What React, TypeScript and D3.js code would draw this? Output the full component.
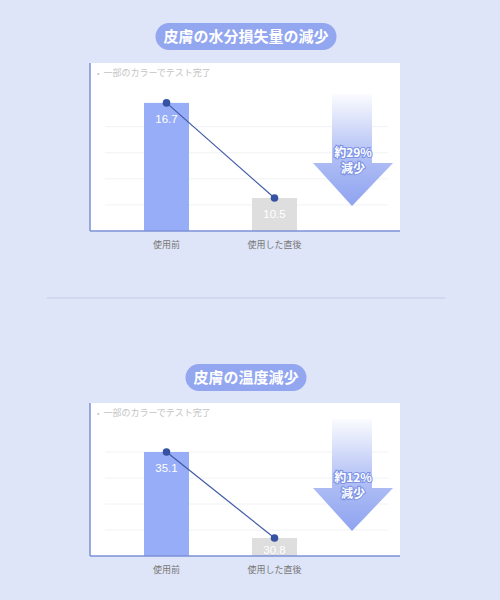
import { scaleLinear, scalePoint } from "d3";

const panelTitles = ["皮膚の水分損失量の減少", "皮膚の温度減少"];
const categories = ["使用前", "使用した直後"];
const moistureValues = [16.7, 10.5];
const temperatureValues = [35.1, 30.8];
const reductionLabels = ["約29%", "約12%"];
const moistureDomain = [8.35, 19.3];
const temperatureDomain = [29.9, 37.55];
const moistureGrid = [10.05, 11.75, 13.45, 15.15];
const temperatureGrid = [31.2, 32.5, 33.8, 35.1];
const caption = "一部のカラーでテスト完了";

const FONT = "'Noto Sans CJK JP', 'Noto Sans', sans-serif";

interface PanelProps {
  id: string;
  title: string;
  values: number[];
  domain: number[];
  grid: number[];
  reduction: string;
  pillY: number;
  top: number;
  bottom: number;
}

function Panel({ id, title, values, domain, grid, reduction, pillY, top, bottom }: PanelProps) {
  const left = 90;
  const right = 400;
  const x = scalePoint(categories, [166.5, 274.5]);
  const y = scaleLinear(domain, [bottom, top]);
  const barW = 45;
  const pillW = title.length * 15 + 16;
  const ax = 352; // arrow centre

  return (
    <g>
      <defs>
        <linearGradient id={`shaft-${id}`} gradientUnits="userSpaceOnUse" x1={0} x2={0} y1={bottom - 140} y2={bottom - 25}>
          <stop offset="0" stopColor="#ffffff" stopOpacity={1} />
          <stop offset="0.55" stopColor="#b2c0f5" />
          <stop offset="1" stopColor="#8fa3f0" />
        </linearGradient>
      </defs>
      <rect x={246 - pillW / 2} y={pillY - 13.5} width={pillW} height={27} rx={13.5} fill="#93a6f0" />
      <text x={246} y={pillY} dy="0.36em" textAnchor="middle" fill="#fff" fontSize={15} fontWeight={700} fontFamily={FONT}>
        {title}
      </text>
      <rect x={left} y={top} width={right - left} height={bottom - top} fill="#fff" />
      {grid.map((g) => (
        <line key={g} x1={105} x2={388} y1={y(g)} y2={y(g)} stroke="#f1f2f6" strokeWidth={1} />
      ))}
      <text x={97} y={top + 13} fontSize={9} fill="#c4c4c4" fontFamily={FONT}>
        <tspan fontSize={7}>•</tspan>
        <tspan dx={4}>{caption}</tspan>
      </text>
      {values.map((v, i) => (
        <rect
          key={i}
          x={(x(categories[i]) ?? 0) - barW / 2}
          y={y(v)}
          width={barW}
          height={bottom - y(v)}
          fill={i === 0 ? "#97adf7" : "#dedede"}
        />
      ))}
      {values.map((v, i) => (
        <text
          key={`l${i}`}
          x={x(categories[i])}
          y={Math.min(y(v) + 20, bottom - 2)}
          textAnchor="middle"
          fill="#fff"
          fontSize={11.5}
          fontFamily="'Liberation Sans', Arial, sans-serif"
        >
          {v.toFixed(1)}
        </text>
      ))}
      <line
        x1={x(categories[0])}
        y1={y(values[0])}
        x2={x(categories[1])}
        y2={y(values[1])}
        stroke="#3f5aa6"
        strokeWidth={1.2}
      />
      {values.map((v, i) => (
        <circle key={`c${i}`} cx={x(categories[i])} cy={y(v)} r={3.8} fill="#3552a3" />
      ))}
      <path
        d={`M${ax - 20},${bottom - 137} L${ax + 20},${bottom - 137} L${ax + 20},${bottom - 68} L${ax + 41},${bottom - 68} L${ax},${bottom - 25} L${ax - 39},${bottom - 68} L${ax - 20},${bottom - 68} Z`}
        fill={`url(#shaft-${id})`}
      />
      {[reduction, "減少"].map((t, i) => (
        <text
          key={t}
          x={ax + 1}
          y={bottom - 78 + i * 16}
          dy="0.36em"
          textAnchor="middle"
          fill="#fff"
          stroke="#7d93e6"
          strokeWidth={2.2}
          paintOrder="stroke"
          fontSize={12}
          fontWeight={700}
          fontFamily={FONT}
        >
          {t}
        </text>
      ))}
      <line x1={left} x2={left} y1={top} y2={bottom} stroke="#7b90d8" strokeWidth={1.5} />
      <line x1={left} x2={right} y1={bottom} y2={bottom} stroke="#7b90d8" strokeWidth={1.5} />
      {categories.map((c) => (
        <text key={c} x={x(c)} y={bottom + 14} dy="0.36em" textAnchor="middle" fill="#777" fontSize={9} fontFamily={FONT}>
          {c}
        </text>
      ))}
    </g>
  );
}

export default function App() {
  return (
    <svg width={500} height={600} style={{ position: "absolute", left: 0, top: 0 }}>
      <rect width={500} height={600} fill="#dfe5f8" />
      <Panel
        id="a"
        title={panelTitles[0]}
        values={moistureValues}
        domain={moistureDomain}
        grid={moistureGrid}
        reduction={reductionLabels[0]}
        pillY={36.5}
        top={63}
        bottom={231}
      />
      <line x1={47} x2={445} y1={298} y2={298} stroke="#ccd3ec" strokeWidth={1.5} />
      <Panel
        id="b"
        title={panelTitles[1]}
        values={temperatureValues}
        domain={temperatureDomain}
        grid={temperatureGrid}
        reduction={reductionLabels[1]}
        pillY={377.5}
        top={403}
        bottom={556}
      />
    </svg>
  );
}
